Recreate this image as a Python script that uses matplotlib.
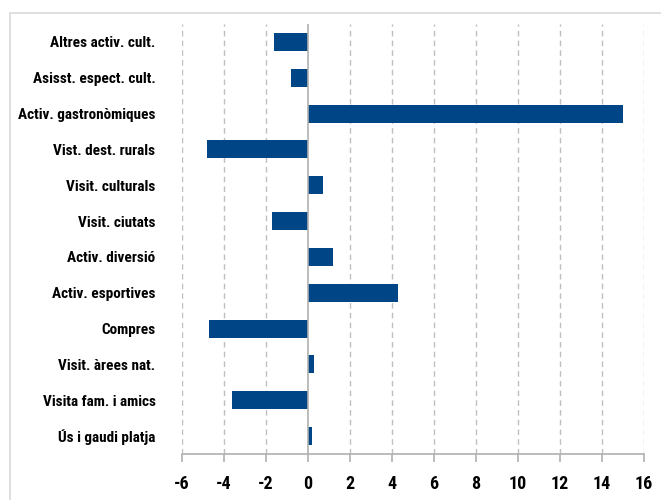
import matplotlib
matplotlib.use("Agg")
import matplotlib.pyplot as plt
from matplotlib.patches import Rectangle

# categories, top to bottom as in the chart
categories = [
    "Altres activ. cult.",
    "Asisst. espect. cult.",
    "Activ. gastronòmiques",
    "Vist. dest. rurals",
    "Visit. culturals",
    "Visit. ciutats",
    "Activ. diversió",
    "Activ. esportives",
    "Compres",
    "Visit. àrees nat.",
    "Visita fam. i amics",
    "Ús i gaudi platja",
]
values = [-1.6, -0.8, 15.0, -4.8, 0.7, -1.7, 1.2, 4.3, -4.7, 0.3, -3.6, 0.2]
xticks = [-6, -4, -2, 0, 2, 4, 6, 8, 10, 12, 14, 16]

plt.rcParams['font.family'] = ['Roboto Condensed', 'Noto Sans Condensed', 'DejaVu Sans']
plt.rcParams['font.stretch'] = 'condensed'
plt.rcParams['font.weight'] = 'bold'

fig = plt.figure(figsize=(6.61, 5.0), dpi=100)
ax = fig.add_axes([182/661, 1 - 454/500, 462/661, 430/500])

# light frame round the chart area
fig.patches.append(Rectangle((10/661, -0.1), 2.0, 1 - 13/500 + 0.1,
                             transform=fig.transFigure, fill=False,
                             edgecolor="#d9d9d9", linewidth=1.2))

pos = list(range(len(categories)))[::-1]
ax.barh(pos, values, height=0.5, color="#004586", zorder=3)

ax.set_xlim(-6, 16)
ax.set_ylim(-0.5, len(categories) - 0.5)
ax.set_xticks(xticks)
ax.set_xticklabels([str(t) for t in xticks])
ax.set_yticks(pos)
ax.set_yticklabels(categories)

for t in xticks:
    if t != 0:
        ax.axvline(t, color="#bfbfbf", linestyle=(0, (4, 3)), linewidth=1, zorder=1)
ax.axvline(0, color="#b0b0b0", linewidth=1.2, zorder=4)

for s in ["top", "right", "left"]:
    ax.spines[s].set_visible(False)
ax.spines["bottom"].set_color("#b0b0b0")
ax.spines["bottom"].set_linewidth(1.2)

ax.tick_params(axis="y", length=0, pad=19, labelsize=11)
ax.tick_params(axis="x", length=6, width=1.2, color="#b0b0b0", pad=9, labelsize=13)

plt.savefig("out.png", dpi=100)
